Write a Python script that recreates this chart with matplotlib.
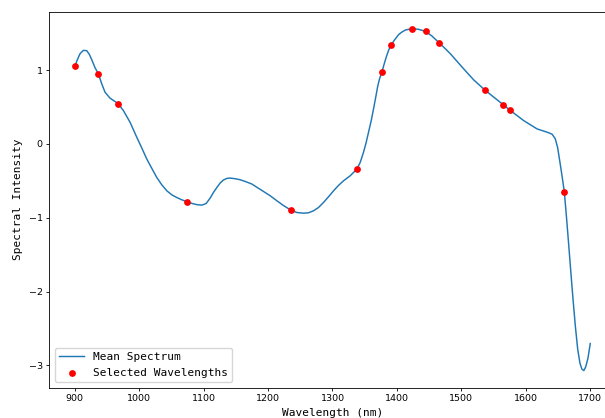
#!/usr/bin/env python3

import matplotlib
matplotlib.use('Agg')
import matplotlib.pyplot as plt

# mean spectrum
wavelengths = [900.5, 903.1, 908.2, 913.4, 918.6, 922.7, 926.4, 931.5, 936.6, 941.9,
               947.0, 954.8, 962.6, 967.7, 975.5, 985.9, 996.3, 1004.0, 1011.8, 1019.6,
               1027.3, 1035.0, 1042.9, 1050.6, 1058.4, 1066.1, 1073.9, 1081.5, 1089.4, 1097.2,
               1103.9, 1110.1, 1115.2, 1120.5, 1125.6, 1130.7, 1136.0, 1141.1, 1148.9, 1156.7,
               1164.5, 1174.8, 1192.9, 1203.3, 1213.7, 1223.9, 1235.4, 1244.7, 1255.0, 1262.7,
               1270.5, 1278.3, 1286.0, 1293.8, 1301.6, 1309.3, 1317.1, 1327.5, 1337.9, 1343.0,
               1348.1, 1352.3, 1355.9, 1360.1, 1363.7, 1366.8, 1369.9, 1373.0, 1376.7, 1380.3,
               1383.4, 1387.0, 1390.7, 1395.8, 1402.5, 1407.7, 1412.9, 1423.3, 1433.5, 1444.4,
               1454.4, 1465.2, 1475.0, 1482.8, 1503.4, 1518.9, 1536.0, 1564.6, 1574.8, 1596.6,
               1617.4, 1630.3, 1636.0, 1641.0, 1645.8, 1649.4, 1653.0, 1656.5, 1659.8, 1663.0,
               1666.5, 1670.0, 1673.5, 1677.0, 1680.5, 1684.0, 1687.0, 1690.0, 1693.0, 1696.5,
               1700.0]
intensity = [1.054, 1.122, 1.223, 1.268, 1.264, 1.213, 1.141, 1.033, 0.951, 0.815,
             0.701, 0.620, 0.575, 0.543, 0.452, 0.293, 0.090, -0.054, -0.204, -0.331,
             -0.454, -0.553, -0.635, -0.689, -0.726, -0.757, -0.780, -0.805, -0.822, -0.829,
             -0.807, -0.734, -0.658, -0.590, -0.530, -0.489, -0.467, -0.462, -0.471, -0.485,
             -0.508, -0.543, -0.644, -0.702, -0.770, -0.834, -0.897, -0.929, -0.938, -0.933,
             -0.906, -0.861, -0.793, -0.716, -0.635, -0.562, -0.499, -0.431, -0.340, -0.250,
             -0.114, 0.022, 0.158, 0.317, 0.476, 0.620, 0.769, 0.883, 0.973, 1.087,
             1.177, 1.268, 1.336, 1.404, 1.481, 1.516, 1.543, 1.562, 1.553, 1.526,
             1.462, 1.372, 1.291, 1.223, 1.019, 0.870, 0.734, 0.534, 0.462, 0.317,
             0.204, 0.167, 0.150, 0.130, 0.068, -0.050, -0.250, -0.450, -0.652, -0.980,
             -1.360, -1.750, -2.130, -2.480, -2.780, -2.970, -3.050, -3.071, -3.020, -2.900,
             -2.704]

# selected wavelengths
sel_wl = [900.5, 936.6, 967.7, 1073.9, 1235.4, 1337.9, 1376.7, 1390.7, 1423.3,
          1444.4, 1465.2, 1536.0, 1564.6, 1574.8, 1659.8]
sel_val = [1.054, 0.951, 0.543, -0.780, -0.897, -0.340, 0.973, 1.336, 1.562,
           1.526, 1.372, 0.734, 0.534, 0.462, -0.652]

label_font = {'family': 'DejaVu Sans Mono', 'size': 8.0}

fig = plt.figure(figsize=(6.05, 4.18), dpi=100)
ax = fig.add_axes([0.0815, 0.0725, 0.9367, 0.8998])

ax.plot(wavelengths, intensity, color='#1f77b4', lw=1.05, label='Mean Spectrum')
ax.scatter(sel_wl, sel_val, color='red', s=15, zorder=3, label='Selected Wavelengths')

ax.set_xticks([900, 1000, 1100, 1200, 1300, 1400, 1500, 1600, 1700])
ax.set_yticks([-3, -2, -1, 0, 1])
ax.tick_params(labelsize=6.8, width=0.6, length=2.4, pad=2.4)
for s in ax.spines.values():
    s.set_linewidth(0.6)

ax.set_xlabel('Wavelength (nm)', fontdict=label_font, labelpad=3)
ax.set_ylabel('Spectral Intensity', fontdict=label_font, labelpad=4)
ax.legend(loc='lower left', prop={'family': 'DejaVu Sans Mono', 'size': 8.0},
          borderaxespad=0.5, handlelength=2.2)

fig.savefig('out.png', dpi=100)
